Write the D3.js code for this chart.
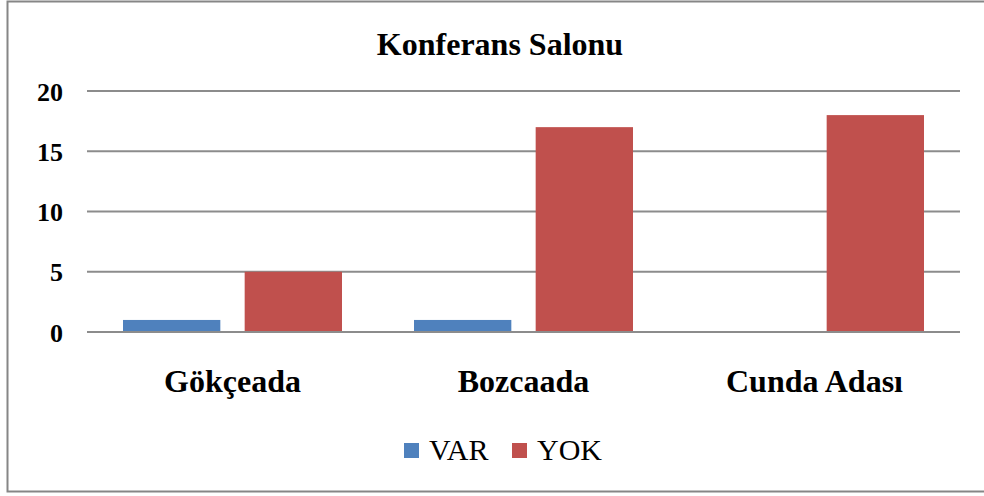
<!DOCTYPE html>
<html>
  <head>
    <meta charset="utf-8" />
    <title>Konferans Salonu</title>
    <style type="text/css">
      html, body { margin: 0; padding: 0; background: #fff; }
      svg { display: block; }
      svg text { font-family: 'Times New Roman', 'Liberation Serif', 'DejaVu Serif', serif; }
    </style>
  </head>
  <body>
    <svg id="chart" width="984" height="496"></svg>

    <script src="https://cdn.jsdelivr.net/npm/d3@7/dist/d3.min.js"></script>
    <script type="text/javascript">

    var categories = ['Gökçeada', 'Bozcaada', 'Cunda Adası'];
    var seriesNames = ['VAR', 'YOK'];
    var varValues = [1, 1, 0];
    var yokValues = [5, 17, 18];
    var yTicks = [0, 5, 10, 15, 20];
    var colors = ['#4f81bd', '#c0504d'];

    var serif = "'Times New Roman', 'Liberation Serif', 'DejaVu Serif', serif";
    var svg = d3.select('#chart');
    var plotLeft = 87, plotRight = 960, plotTop = 91, plotBottom = 332;

    // outer frame
    svg.append('rect')
      .attr('x', 7.5).attr('y', 1.5)
      .attr('width', 1000).attr('height', 490)
      .attr('fill', 'none')
      .attr('stroke', '#868686')
      .attr('stroke-width', 2);

    svg.append('text')
      .attr('x', 500).attr('y', 55)
      .attr('text-anchor', 'middle')
      .style('font-family', serif)
      .attr('font-size', 32)
      .attr('font-weight', 'bold')
      .text('Konferans Salonu');

    var x0 = d3.scaleBand().domain(categories).range([plotLeft, plotRight]);
    var x1 = d3.scaleBand().domain(seriesNames)
               .range([36, x0.bandwidth() - 36])
               .paddingInner(0.2);
    var y = d3.scaleLinear().domain([0, 20]).range([plotBottom, plotTop]);

    // gridlines
    svg.append('g')
      .selectAll('line')
      .data(yTicks)
      .enter()
      .append('line')
        .attr('x1', plotLeft).attr('x2', plotRight)
        .attr('y1', function(d) { return y(d); })
        .attr('y2', function(d) { return y(d); })
        .attr('stroke', '#8c8c8c')
        .attr('stroke-width', 2);

    var yAxis = svg.append('g')
      .attr('transform', 'translate(' + (plotLeft - 24) + ',0)')
      .call(d3.axisLeft(y).tickValues(yTicks).tickSize(0).tickPadding(0));
    yAxis.select('.domain').remove();
    yAxis.attr('font-family', null);
    yAxis.selectAll('text')
      .style('font-family', serif)
      .attr('font-size', 26)
      .attr('font-weight', 'bold')
      .attr('fill', '#000')
      .attr('dy', '0.35em');

    var rows = categories.map(function(c, i) {
      return { cat: c, vals: [varValues[i], yokValues[i]] };
    });

    var groups = svg.append('g')
      .selectAll('g')
      .data(rows)
      .enter()
      .append('g')
        .attr('transform', function(d) { return 'translate(' + x0(d.cat) + ',0)'; });

    groups.selectAll('rect')
      .data(function(d) { return d.vals.map(function(v, j) { return { s: seriesNames[j], v: v, c: colors[j] }; }); })
      .enter()
      .append('rect')
        .filter(function(d) { return d.v > 0; })
        .attr('x', function(d) { return x1(d.s); })
        .attr('width', x1.bandwidth())
        .attr('y', function(d) { return y(d.v); })
        .attr('height', function(d) { return y(0) - y(d.v); })
        .attr('fill', function(d) { return d.c; });

    // x axis line on top of bars
    svg.append('line')
      .attr('x1', plotLeft).attr('x2', plotRight)
      .attr('y1', y(0)).attr('y2', y(0))
      .attr('stroke', '#8c8c8c')
      .attr('stroke-width', 2);

    svg.append('g')
      .selectAll('text')
      .data(categories)
      .enter()
      .append('text')
        .attr('x', function(d) { return x0(d) + x0.bandwidth() / 2; })
        .attr('y', 392)
        .attr('text-anchor', 'middle')
        .style('font-family', serif)
        .attr('font-size', 32)
        .attr('font-weight', 'bold')
        .text(function(d) { return d; });

    // legend
    var legendX = [404, 512];
    var legend = svg.append('g')
      .selectAll('g')
      .data(seriesNames)
      .enter()
      .append('g')
        .attr('transform', function(d, i) { return 'translate(' + legendX[i] + ',443)'; });
    legend.append('rect')
      .attr('width', 15).attr('height', 15)
      .attr('fill', function(d, i) { return colors[i]; });
    legend.append('text')
      .attr('x', 25).attr('y', 17)
      .style('font-family', serif)
      .attr('font-size', 30)
      .text(function(d) { return d; });

    </script>
  </body>
</html>
